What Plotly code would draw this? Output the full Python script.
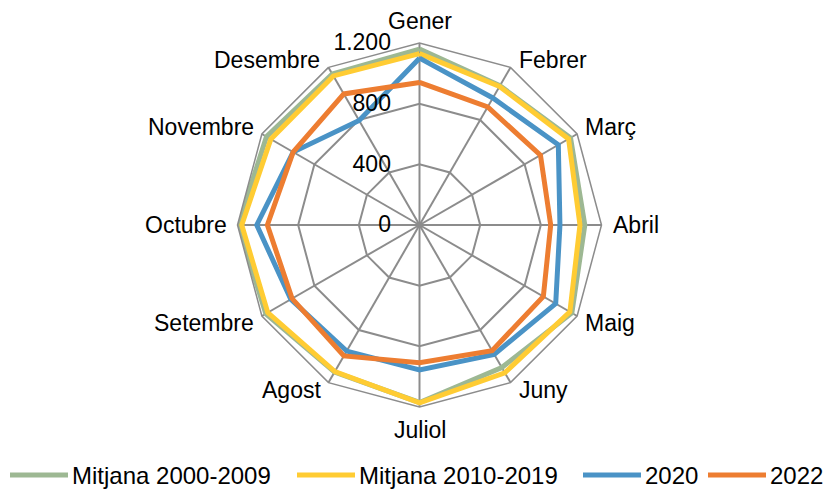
import math
import plotly.graph_objects as go

# Monthly values per series (Gener .. Desembre)
months = ["Gener", "Febrer", "Març", "Abril", "Maig", "Juny",
          "Juliol", "Agost", "Setembre", "Octubre", "Novembre", "Desembre"]

mitjana_2000_2009 = [1160, 1060, 1150, 1090, 1160, 1085, 1170, 1120, 1170, 1195, 1165, 1150]
mitjana_2010_2019 = [1130, 1055, 1135, 1058, 1145, 1125, 1172, 1116, 1155, 1172, 1132, 1135]
serie_2020 = [1100, 967, 1057, 926, 1037, 985, 956, 960, 980, 1073, 962, 796]
serie_2022 = [940, 899, 921, 865, 943, 957, 908, 997, 970, 1003, 962, 998]

series_names = ["Mitjana 2000-2009", "Mitjana 2010-2019", "2020", "2022"]
radial_ticks = [0, 400, 800, 1200]
radial_labels = ["{:,}".format(v).replace(",", ".") for v in radial_ticks]

colors = ["#9DB893", "#FFCC33", "#4A93C6", "#ED7D31"]
FONT = "Liberation Sans, Arial, sans-serif"
GRID = "#8C8C8C"
FS = 23

W, H = 837, 493
cx, cy, R = 419.5, 225.0, 182.0

fig = go.Figure()
for name, vals, col in zip(series_names,
                           [mitjana_2000_2009, mitjana_2010_2019, serie_2020, serie_2022],
                           colors):
    fig.add_trace(go.Scatterpolar(
        r=vals + vals[:1],
        theta=months + months[:1],
        mode="lines",
        name=name,
        line=dict(color=col, width=5),
        showlegend=False,
        hoverinfo="r+theta+name",
    ))

fig.update_layout(
    width=W, height=H,
    margin=dict(l=0, r=0, t=0, b=0),
    paper_bgcolor="white",
    font=dict(family=FONT, size=FS, color="#000000"),
    polar=dict(
        domain=dict(x=[(cx - R - 40) / W, (cx + R + 40) / W],
                    y=[(H - cy - R) / H, (H - cy + R) / H]),
        bgcolor="white",
        gridshape="linear",
        radialaxis=dict(
            range=[0, 1200],
            tickvals=radial_ticks,
            ticktext=radial_labels,
            angle=90,
            tickangle=90,
            side="counterclockwise",
            showline=False,
            gridcolor=GRID,
            gridwidth=1.5,
            ticks="outside",
            ticklen=20,
            tickcolor="rgba(0,0,0,0)",
            tickfont=dict(family=FONT, size=FS, color="#000000"),
        ),
        angularaxis=dict(
            rotation=90,
            direction="clockwise",
            gridcolor=GRID,
            gridwidth=1.5,
            linecolor=GRID,
            linewidth=1.5,
            showline=True,
            ticks="",
            showticklabels=False,
        ),
    ),
)

# Month names placed next to each outer vertex of the polygon grid
n = len(months)
for i, m in enumerate(months):
    a = 2 * math.pi * i / n
    vx = cx + R * math.sin(a)
    vy = cy - R * math.cos(a)
    s, c = math.sin(a), math.cos(a)
    if abs(s) < 1e-6:
        x, y, xa = vx, vy - 22 if c > 0 else vy + 23, "center"
    elif abs(c) < 1e-6:
        x, y, xa = (vx + 9, vy, "left") if s > 0 else (vx - 9, vy, "right")
    else:
        x = vx + 6 if s > 0 else vx - 6
        y = vy - 7 if c > 0 else vy + 7
        xa = "left" if s > 0 else "right"
    fig.add_annotation(xref="paper", yref="paper", x=x / W, y=(H - y) / H,
                       xanchor=xa, yanchor="middle", text=m, showarrow=False,
                       font=dict(family=FONT, size=FS, color="#000000"))

# Legend drawn along the bottom edge
legend_x = [10, 297, 583, 708]
legend_y = 475
for x0, name, col in zip(legend_x, series_names, colors):
    fig.add_shape(type="line", xref="paper", yref="paper",
                  x0=x0 / W, x1=(x0 + 58) / W,
                  y0=(H - legend_y) / H, y1=(H - legend_y) / H,
                  line=dict(color=col, width=5))
    fig.add_annotation(xref="paper", yref="paper",
                       x=(x0 + 60) / W, y=(H - legend_y) / H,
                       xanchor="left", yanchor="middle",
                       text=name, showarrow=False,
                       font=dict(family=FONT, size=FS + 1, color="#000000"))

fig.write_html("out.html")
